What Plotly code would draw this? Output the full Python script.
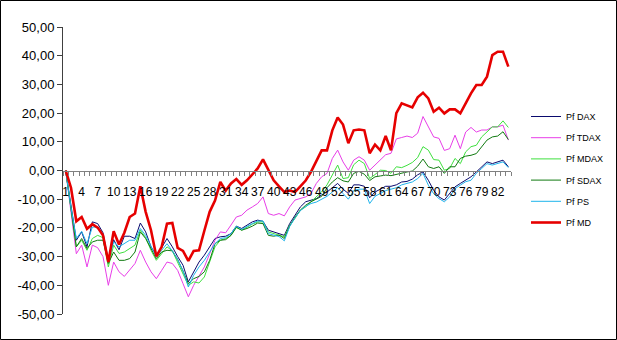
import plotly.graph_objects as go

periods = list(range(1, 85))

pf_dax = [0, -12, -24.3, -21.4, -26.6, -17.9, -18.5, -21.7, -31.3, -24.1,
          -27.6, -22.9, -22.9, -23.7, -18.3, -21.4, -26.6, -29.5, -26.9, -23.7,
          -26.6, -30, -33, -38.8, -35.3, -31.9, -29.5, -26.6, -23.7, -23.1,
          -22.9, -22, -19.4, -20.2, -19.1, -17.9, -17.3, -17.7, -20.8, -21.4,
          -22, -22.6, -18.5, -15.6, -12.7, -10.9, -10.3, -9.8, -8.5, -7.5,
          -6, -4.5, -6.5, -8, -5, -5, -5.5, -9.5, -7.5, -6.5,
          -5.5, -5.5, -5, -4, -3.8, -3, -1.5, -0.5, -3.4, -6.9,
          -9.2, -10.3, -8, -5.7, -4.5, -3.4, -2.2, -0.5, 1.3, 3,
          2.4, 3, 3.6, 1.3]

pf_tdax = [0, -14, -29, -26, -33.6, -26, -26.9, -30, -40, -31.9,
           -35.3, -36.9, -34.5, -32.4, -27.8, -31.9, -35.3, -37.7, -34.8, -31.9,
           -32.4, -34.8, -39.4, -44, -40, -37, -33.6, -29, -24.3, -21.4,
           -21.7, -19, -16.2, -15.6, -13.8, -12.7, -11.5, -9.2, -15, -15.6,
           -15, -15.8, -12.7, -10.3, -9.8, -9.2, -8, -4.5, -2.2, -1,
           4.2, 7.1, 3, 0.1, 3.6, 4.8, 3.6, 0.1, 1.9, 3.6,
           5.5, 6, 11, 11.5, 12, 11.5, 13, 18.8, 15.2, 11.7,
           11.2, 7, 7.6, 12.3, 7.6, 13.4, 15, 13.4, 14.1, 14.1,
           15.2, 15.2, 15.8, 10.6]

pf_mdax = [0, -14, -26.6, -24.3, -27.8, -23.7, -22.6, -23.4, -33.6, -26,
           -28.9, -28.4, -27.2, -26, -20.8, -23.4, -27.8, -31.3, -29, -26.6,
           -28, -32, -36, -40, -38.8, -39.2, -37.1, -31.9, -26.6, -24.3,
           -23.7, -22.6, -19.9, -20.8, -19.7, -18.7, -17.9, -17.9, -21.4, -22,
           -22.5, -23.1, -19.1, -16.7, -13.8, -12.7, -10.9, -9.2, -7.4, -5,
           -1.8, 1.9, -2.8, -2.5, 2, 3.6, 2.4, -2.8, -1.4, 0.1,
           0, -1, 1.3, 1, 1.8, 2.8, 4.5, 8.3, 7.1, 3.8,
           3.6, 0.1, 0.7, 4.2, 2.4, 6.5, 8.3, 8.8, 11.7, 13.5,
           15.2, 15.2, 17.3, 15]

pf_sdax = [0, -14, -26.6, -23.7, -27.2, -24.9, -24.3, -24.3, -32.4, -28.4,
           -31.3, -31.3, -30.7, -28.4, -21.4, -23.7, -27.2, -30.7, -28.4, -27.8,
           -28, -31, -35, -39.4, -37.7, -36.9, -35.3, -31.3, -25.5, -24.3,
           -24.1, -22.6, -19.7, -20.8, -20.2, -19.4, -18.3, -18.5, -22.6, -22.9,
           -22.5, -23.7, -19.4, -16.2, -13.8, -12.1, -10.9, -9.8, -9, -6,
           -4, -2.5, -3.6, -4, -1, -0.3, -1.3, -3.5, -2.2, -1.9,
           -1.6, -1.8, -1.3, -0.9, -0.5, -0.2, 1.5, 4, 1.3, 0.7,
           1.3, -1, 1.3, 1.3, 4.2, 5, 5.3, 5.9, 8.3, 10.6,
           11.7, 12, 13.5, 10.8]

pf_ps = [0, -13, -23.7, -21.2, -25.5, -19.7, -19.7, -22.6, -31.9, -24.9,
         -26.6, -25.5, -24.3, -24.3, -20.2, -22.6, -26.6, -30.1, -27.8, -25.5,
         -28, -31, -35, -40.6, -36.5, -33.6, -31.3, -28.4, -25.5, -23.7,
         -23.4, -22, -19.4, -20.5, -19.4, -18.5, -17.6, -17.6, -22, -22.6,
         -23, -24.5, -19.5, -16.5, -14, -12.5, -11.5, -11, -10, -9,
         -7.5, -6, -8, -10, -7, -6.5, -6.5, -11.5, -9, -8,
         -7, -6.5, -6, -5, -4.5, -4, -2.8, -1, -5.1, -8.1,
         -9.8, -10.9, -9.2, -6.3, -5.1, -3.9, -3.4, -1, 0.7, 2.4,
         1.9, 2.4, 3, 1]

pf_md = [0, -6, -17.7, -16.2, -20.3, -18.7, -19.9, -22.6, -31.9, -21.2,
         -25.8, -21.7, -16.2, -15, -5.5, -14.4, -20.8, -29.9, -26.6, -18.5,
         -18.3, -27, -28, -31.5, -28, -27.8, -21, -14.4, -10.5, -4,
         -7, -4.5, -3, -5, -3.4, -1.5, 0.7, 3.9, 0, -3.4,
         -5.5, -7.5, -7, -7.5, -5.5, -3.5, -0.5, 3.5, 7, 7,
         14, 18.5, 16, 9.5, 14, 14.3, 14, 6, 9, 7,
         12, 7, 20, 23.4, 22.8, 22, 25.5, 27.1, 25.1, 20.5,
         21.9, 19.9, 21.3, 21.3, 19.9, 23.4, 26.9, 29.8, 29.8, 32.7,
         40.2, 41.4, 41.4, 36.2]

names = ["Pf DAX", "Pf TDAX", "Pf MDAX", "Pf SDAX", "Pf PS", "Pf MD"]
series = [pf_dax, pf_tdax, pf_mdax, pf_sdax, pf_ps, pf_md]
colors = ["#0a0a6e", "#e83ee8", "#3ee03e", "#107a10", "#1fb4ec", "#e60000"]
widths = [1, 1, 1, 1, 1, 2.6]

y_ticks = [-50, -40, -30, -20, -10, 0, 10, 20, 30, 40, 50]
y_ticktext = [f"{v:.2f}".replace(".", ",") for v in y_ticks]
grid_vals = [v for v in y_ticks if v not in (-50, 0, 50)]
x_tickvals = periods[::3]
x_ticktext = [str(v) for v in x_tickvals]

fig = go.Figure()
for i, (nm, ys, col, w) in enumerate(zip(names, series, colors, widths)):
    fig.add_trace(go.Scatter(x=periods[:len(ys)], y=ys, mode="lines", name=nm,
                             line=dict(color=col, width=w), legendgroup=f"g{i}"))

W, H = 617, 340
ml, mr, mt, mb = 63, 106, 27, 26
pw, ph = W - ml - mr, H - mt - mb


def px_x(px):
    return (px - ml) / pw


def px_y(py):
    return (H - mb - py) / ph


fig.update_layout(
    width=W, height=H,
    margin=dict(l=ml, r=mr, t=mt, b=mb, pad=0, autoexpand=False),
    paper_bgcolor="white", plot_bgcolor="white",
    font=dict(family="Liberation Sans, Arial, sans-serif", color="black"),
    showlegend=True,
    legend=dict(x=px_x(526), xanchor="left", y=px_y(102), yanchor="top",
                font=dict(size=9), tracegroupgap=2.2, bgcolor="rgba(0,0,0,0)"),
    xaxis=dict(range=[0.5, 84.5], anchor="free", position=0.5,
               showline=True, linecolor="#808080", linewidth=1,
               tickmode="array", tickvals=x_tickvals, ticktext=x_ticktext,
               ticks="", showgrid=False, zeroline=False,
               tickfont=dict(size=12), ticklabelstandoff=10,
               minor=dict(tickmode="linear", tick0=0.5, dtick=1, ticks="outside",
                          ticklen=4, tickcolor="#808080", showgrid=False)),
    yaxis=dict(range=[-50, 50], tickmode="array", tickvals=y_ticks, ticktext=y_ticktext,
               showline=True, linecolor="#404040", linewidth=1,
               ticks="outside", ticklen=5, tickcolor="#404040",
               showgrid=False, zeroline=False, tickfont=dict(size=13)),
    yaxis2=dict(range=[-50, 50], overlaying="y", tickmode="array", tickvals=grid_vals,
                showticklabels=False, ticks="", showgrid=True, gridcolor="black",
                gridwidth=1, zeroline=False, showline=False),
    shapes=[dict(type="rect", xref="paper", yref="paper",
                 x0=px_x(0.5), x1=px_x(W - 0.5),
                 y0=px_y(H - 0.5), y1=px_y(0.5),
                 line=dict(color="black", width=1), fillcolor="rgba(0,0,0,0)", layer="above")],
)
fig.write_html("out.html")
